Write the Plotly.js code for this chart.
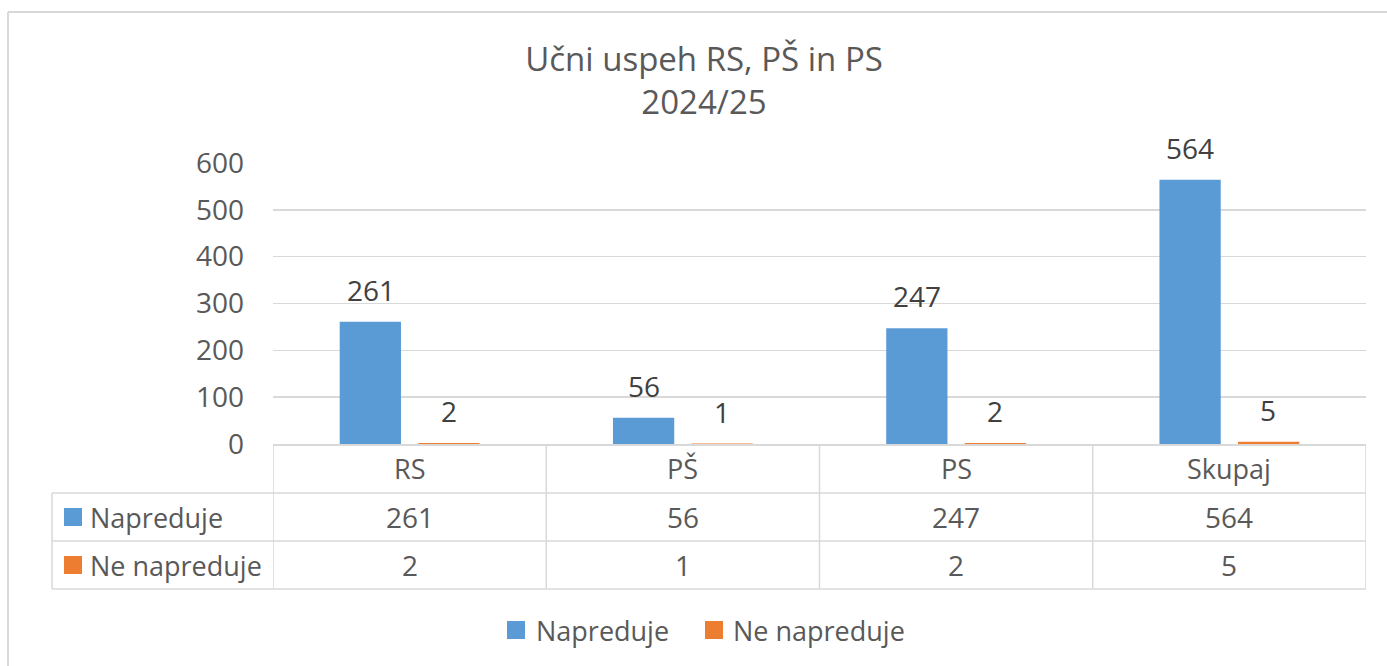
<!DOCTYPE html>
<html>
<head>
<meta charset="utf-8">
<script src="https://cdn.plot.ly/plotly-3.0.1.min.js"></script>
<style>html,body{margin:0;padding:0;background:#fff;}</style>
</head>
<body>
<div id="chart" style="width:1387px;height:666px;"></div>
<script>
const categories = ["RS", "PŠ", "PS", "Skupaj"];
const napreduje = [261, 56, 247, 564];
const neNapreduje = [2, 1, 2, 5];
const seriesNames = ["Napreduje", "Ne napreduje"];
const yTicks = [0, 100, 200, 300, 400, 500, 600];

const BLUE = "#5B9BD5", ORANGE = "#ED7D31", GRID = "#D9D9D9";
const FONT = "Open Sans, Segoe UI, sans-serif";
const WORD = 27, NUM = 28;

const W = 1387, H = 666, L = 273, R = 21, T = 163, B = 222;
const PW = W - L - R, PH = H - T - B;
const px = X => (X - L) / PW;
const py = Y => (H - B - Y) / PH;

const traces = [
  {type: "bar", x: categories, y: napreduje, name: seriesNames[0], marker: {color: BLUE}, hoverinfo: "none"},
  {type: "bar", x: categories, y: neNapreduje, name: seriesNames[1], marker: {color: ORANGE}, hoverinfo: "none"}
];

const shapes = [];
const annotations = [];
const line = (x0, y0, x1, y1, xref) => shapes.push({type: "line", xref: xref || "paper", yref: "paper", x0, y0, x1, y1, line: {color: GRID, width: 1.5}});

// outer chart border (left + top)
shapes.push({type: "line", xref: "paper", yref: "paper", x0: px(8), x1: px(8), y0: py(12), y1: py(700), line: {color: GRID, width: 2}});
shapes.push({type: "line", xref: "paper", yref: "paper", x0: px(8), x1: px(1400), y0: py(12), y1: py(12), line: {color: GRID, width: 2}});

// table horizontal lines
[493, 541, 589].forEach(Y => line(px(52), py(Y), 1, py(Y)));
// table vertical lines
line(px(52), py(493), px(52), py(589));
for (let i = 0; i <= categories.length; i++) {
  line(i - 0.5, 0, i - 0.5, py(589), "x");
}

// category labels & values in table
const rows = [napreduje, neNapreduje];
const rowY = [517, 565];
categories.forEach((c, i) => {
  annotations.push({xref: "x", yref: "paper", x: c, y: py(468), xanchor: "center", yanchor: "middle", text: c, showarrow: false, font: {family: FONT, size: WORD, color: "#595959"}});
  rows.forEach((r, k) => {
    annotations.push({xref: "x", yref: "paper", x: c, y: py(rowY[k]), xanchor: "center", yanchor: "middle", text: String(r[i]), showarrow: false, font: {family: FONT, size: NUM, color: "#595959"}});
  });
});

// row headers with keys
const colors = [BLUE, ORANGE];
seriesNames.forEach((n, k) => {
  const cy = rowY[k];
  shapes.push({type: "rect", xref: "paper", yref: "paper", x0: px(64), x1: px(82), y0: py(cy - 9), y1: py(cy + 9), fillcolor: colors[k], line: {width: 0}});
  annotations.push({xref: "paper", yref: "paper", x: px(88), y: py(cy), xanchor: "left", yanchor: "middle", text: n, showarrow: false, font: {family: FONT, size: WORD, color: "#595959"}});
});

// data labels above bars
[napreduje, neNapreduje].forEach((s, k) => {
  s.forEach((v, i) => {
    annotations.push({xref: "x", yref: "y", x: categories[i], y: v, xshift: k === 0 ? -39 : 39, yshift: 11, xanchor: "center", yanchor: "bottom", text: String(v), showarrow: false, font: {family: FONT, size: NUM, color: "#404040"}});
  });
});

// bottom legend
const legX = [[507, 534], [705, 731]];
seriesNames.forEach((n, k) => {
  shapes.push({type: "rect", xref: "paper", yref: "paper", x0: px(legX[k][0]), x1: px(legX[k][0] + 18), y0: py(621), y1: py(639), fillcolor: colors[k], line: {width: 0}});
  annotations.push({xref: "paper", yref: "paper", x: px(legX[k][1]), y: py(630), xanchor: "left", yanchor: "middle", text: n, showarrow: false, font: {family: FONT, size: WORD, color: "#595959"}});
});

const layout = {
  width: W, height: H,
  margin: {l: L, r: R, t: T, b: B, pad: 0},
  paper_bgcolor: "#fff", plot_bgcolor: "#fff",
  title: {text: "Učni uspeh RS, PŠ in PS<br>2024/25", x: 704 / W, xanchor: "center", xref: "container", y: 1 - 71 / H, yref: "container", yanchor: "top", font: {family: FONT, size: 33, color: "#595959"}},
  showlegend: false,
  bargap: 0.425, bargroupgap: 0.22,
  xaxis: {type: "category", range: [-0.5, 3.5], showticklabels: false, showgrid: false, showline: true, linecolor: GRID, linewidth: 1.5, ticks: "", fixedrange: true},
  yaxis: {range: [0, 600], tickvals: yTicks, ticktext: yTicks.map(String), showgrid: true, gridcolor: GRID, gridwidth: 1.5, zeroline: false, showline: false, ticks: "", ticklabelstandoff: 28, tickfont: {family: FONT, size: NUM, color: "#595959"}, fixedrange: true},
  shapes, annotations
};

Plotly.newPlot("chart", traces, layout, {displayModeBar: false, staticPlot: true});
</script>
</body>
</html>
